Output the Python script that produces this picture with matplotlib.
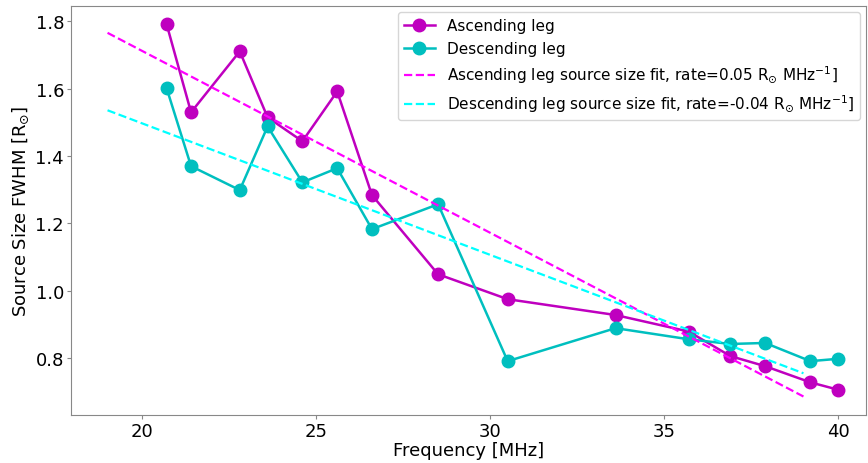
import matplotlib
matplotlib.use("Agg")
import matplotlib.pyplot as plt

freq = [20.7, 21.4, 22.8, 23.6, 24.6, 25.6, 26.6, 28.5, 30.5, 33.6, 35.7, 36.9, 37.9, 39.2, 40.0]
asc = [1.791, 1.530, 1.711, 1.515, 1.444, 1.592, 1.284, 1.049, 0.975, 0.928, 0.879, 0.806, 0.776, 0.728, 0.706]
desc = [1.601, 1.370, 1.299, 1.488, 1.322, 1.364, 1.183, 1.257, 0.791, 0.889, 0.856, 0.842, 0.845, 0.791, 0.798]

fit_x = [19.0, 39.0]
asc_fit = [1.766, 0.686]
desc_fit = [1.536, 0.755]

fig = plt.figure(figsize=(8.68, 4.64), dpi=100)
ax = fig.add_axes([0.0818, 0.1034, 0.916, 0.881])

ax.plot(freq, asc, '-o', color='m', lw=1.8, ms=9, label='Ascending leg')
ax.plot(freq, desc, '-o', color='c', lw=1.8, ms=9, label='Descending leg')
ax.plot(fit_x, asc_fit, '--', color='magenta', lw=1.6,
        label=r'Ascending leg source size fit, rate=0.05 R$_{\odot}$ MHz$^{-1}$]')
ax.plot(fit_x, desc_fit, '--', color='cyan', lw=1.6,
        label=r'Descending leg source size fit, rate=-0.04 R$_{\odot}$ MHz$^{-1}$]')

ax.set_xlim(17.95, 40.8)
ax.set_ylim(0.631, 1.845)
ax.set_xticks([20, 25, 30, 35, 40])
ax.set_yticks([0.8, 1.0, 1.2, 1.4, 1.6, 1.8])
ax.tick_params(labelsize=13, color='#888888', length=3, pad=2)
for s in ax.spines.values():
    s.set_color('#888888')

ax.set_xlabel('Frequency [MHz]', fontsize=13, labelpad=1)
ax.set_ylabel(r'Source Size FWHM [R$_{\odot}$]', fontsize=13, labelpad=3)

ax.legend(loc='upper right', fontsize=11, borderaxespad=0.4)

fig.savefig('out.png', dpi=100)
